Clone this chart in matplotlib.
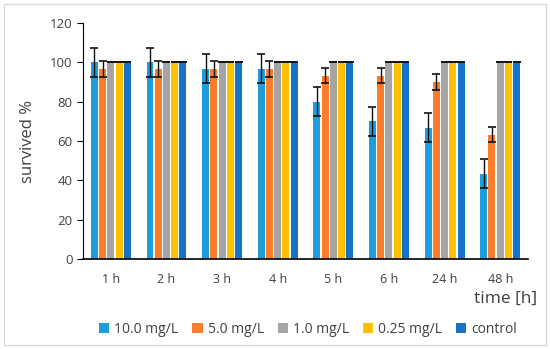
import matplotlib.pyplot as plt
from matplotlib.patches import Rectangle
import numpy as np

times = ['1 h', '2 h', '3 h', '4 h', '5 h', '6 h', '24 h', '48 h']
series = ['10.0 mg/L', '5.0 mg/L', '1.0 mg/L', '0.25 mg/L', 'control']
colors = ['#1f9ddb', '#fb7d2b', '#a5a5a5', '#ffc000', '#1872c6']

conc_10 = [100, 100, 96.7, 96.7, 80, 70, 66.7, 43.3]
conc_5 = [96.7, 96.7, 96.7, 96.7, 93.3, 93.3, 90, 63.3]
conc_1 = [100, 100, 100, 100, 100, 100, 100, 100]
conc_025 = [100, 100, 100, 100, 100, 100, 100, 100]
control = [100, 100, 100, 100, 100, 100, 100, 100]

err_10 = [7.3, 7.3, 7.3, 7.3, 7.3, 7.3, 7.3, 7.3]
err_5 = [4, 4, 4, 4, 4, 4, 4, 4]
err_zero = [0, 0, 0, 0, 0, 0, 0, 0]

values = [conc_10, conc_5, conc_1, conc_025, control]
errors = [err_10, err_5, err_zero, err_zero, err_zero]

plt.rcParams['font.family'] = ['Open Sans', 'DejaVu Sans']

fig = plt.figure(figsize=(5.5, 3.49), dpi=100)
ax = fig.add_axes([0.151, 0.258, 0.809, 0.676])

x = np.arange(len(times))
slot = 0.148
width = 0.125
for i, (name, vals, errs, c) in enumerate(zip(series, values, errors, colors)):
    pos = x + (i - 2) * slot
    ax.bar(pos, vals, width, color=c, label=name, zorder=2)
    ax.errorbar(pos, vals, yerr=errs, fmt='none', ecolor='#111111',
                elinewidth=1, capsize=3, capthick=1.2, zorder=3)

ax.set_ylim(0, 120)
ax.set_yticks(range(0, 121, 20))
ax.set_xlim(-0.5, len(times) - 0.5)
ax.set_xticks(x)
ax.set_xticklabels(times)
ax.tick_params(axis='x', length=0, pad=10, labelsize=9, colors='#404040')
ax.tick_params(axis='y', length=4, direction='out', labelsize=9.5, colors='#404040')
ax.tick_params(axis='y', color='#000000')
ax.spines['top'].set_visible(False)
ax.spines['right'].set_visible(False)
ax.spines['left'].set_color('#000000')
ax.spines['bottom'].set_color('#000000')
ax.spines['bottom'].set_linewidth(1.2)

ax.set_ylabel('survived %', fontsize=12, color='#404040', labelpad=10)
fig.text(0.976, 0.143, 'time [h]', ha='right', va='center', fontsize=12.5, color='#404040')

fig.legend(loc='center', bbox_to_anchor=(0.56, 0.057), ncol=5, frameon=False,
           fontsize=10, handlelength=0.75, handleheight=0.75, handletextpad=0.35,
           columnspacing=1.0, labelcolor='#404040')

fig.patches.append(Rectangle((0.008, 0.012), 0.984, 0.976, transform=fig.transFigure,
                             fill=False, edgecolor='#d9d9d9', linewidth=1))

fig.savefig('out.png', dpi=100)
